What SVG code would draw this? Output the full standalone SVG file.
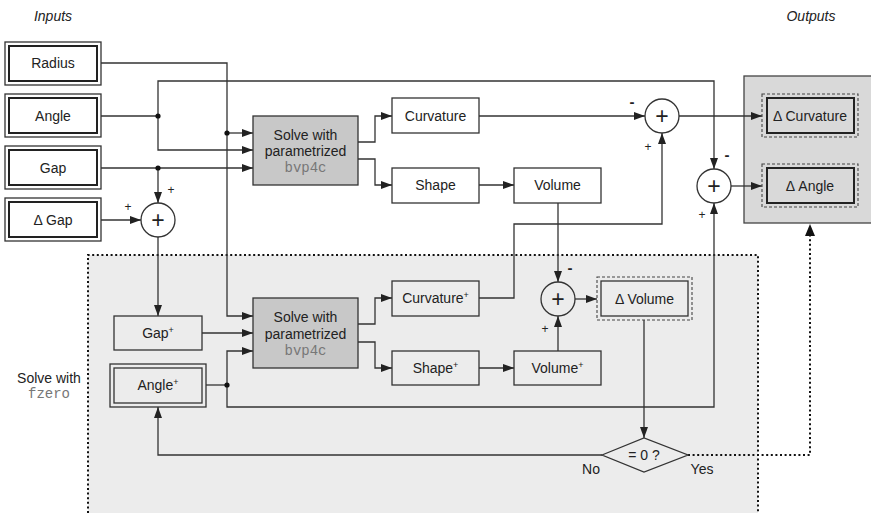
<svg xmlns="http://www.w3.org/2000/svg" width="871" height="513" viewBox="0 0 871 513">
<defs>
<marker id="ah" markerWidth="11" markerHeight="8" refX="11" refY="4" orient="auto" markerUnits="userSpaceOnUse"><path d="M0,0 L11,4 L0,8 z" fill="#222"/></marker>
</defs>
<style>
text{font-family:"Liberation Sans",Arial,sans-serif;font-size:14px;fill:#222;text-anchor:middle}
.mono{font-family:"Liberation Mono","Courier New",monospace;fill:#777}
.it{font-style:italic}
.box{fill:#fff;stroke:#333;stroke-width:1.3}
.boxl{fill:none;stroke:#333;stroke-width:1.3}
.thick{fill:none;stroke:#222;stroke-width:2}
.solve{fill:#c8c8c8;stroke:#333;stroke-width:1.3}
.dash{fill:none;stroke:#444;stroke-width:1.1;stroke-dasharray:3 2}
.sum{fill:#fff;stroke:#333;stroke-width:1.3}
.sumg{fill:#ececec;stroke:#333;stroke-width:1.3}
.plus{font-size:23px}
.sm{font-size:12px;fill:#222}
.mn{font-size:15px;font-weight:bold}
.c{fill:none;stroke:#333;stroke-width:1.3}
.c path.a{marker-end:url(#ah)}
.dot{fill:#111;stroke:none}
.sup{font-size:9px}
</style>

<!-- regions -->
<rect x="88" y="255" width="670" height="270" fill="#ececec"/>
<path d="M88,513 V255 H758 V513" fill="none" stroke="#111" stroke-width="2" stroke-dasharray="2 2.6"/>
<rect x="744" y="76" width="135" height="147" fill="#d9d9d9" stroke="#444" stroke-width="1.3"/>

<text class="it" x="53" y="21">Inputs</text>
<text class="it" x="811" y="21">Outputs</text>
<text x="49" y="383">Solve with</text>
<text class="mono" x="49" y="398">fzero</text>

<!-- connectors -->
<g id="connectors" class="c">
<path class="a" d="M101,63 H227 V316 H253"/>
<path class="a" d="M227,133 H253"/>
<path d="M101,116 H158"/>
<path class="a" d="M158,116 V150 H253"/>
<path class="a" d="M158,116 V81 H714 V169"/>
<path class="a" d="M101,168 H253"/>
<path class="a" d="M158,168 V203"/>
<path class="a" d="M101,220 H141"/>
<path class="a" d="M158,237 V316"/>
<path class="a" d="M358,142 H375 V116 H392"/>
<path class="a" d="M358,159 H375 V185 H392"/>
<path class="a" d="M479,185 H514"/>
<path class="a" d="M479,116 H645"/>
<path class="a" d="M679,116 H762"/>
<path class="a" d="M558,203 V282"/>
<path class="a" d="M479,298 H514 V224 H662 V133"/>
<path class="a" d="M358,324 H375 V298 H392"/>
<path class="a" d="M358,342 H375 V368 H392"/>
<path class="a" d="M479,368 H514"/>
<path class="a" d="M558,351 V316"/>
<path class="a" d="M575,299 H597"/>
<path class="a" d="M644,320 V438"/>
<path class="a" d="M602,455 H158 V407"/>
<path d="M206,385 H227"/>
<path class="a" d="M227,385 V351 H253"/>
<path class="a" d="M227,385 V407 H714 V203"/>
<path class="a" d="M731,186 H762"/>
<path class="a" d="M202,333 H253"/>
<path d="M688,455 H810 V236" stroke="#111" stroke-width="2" stroke-dasharray="2 2.6"/>
<polygon points="810,224 805,236 815,236" fill="#111" stroke="none"/>
<circle class="dot" cx="227" cy="133" r="2.6"/>
<circle class="dot" cx="158" cy="116" r="2.6"/>
<circle class="dot" cx="158" cy="168" r="2.6"/>
<circle class="dot" cx="227" cy="385" r="2.6"/>
</g>

<!-- inputs -->
<g id="radius"><rect class="box" x="5" y="42" width="96" height="43"/><rect class="thick" x="9" y="46" width="88" height="35"/><text x="53" y="68">Radius</text></g>
<g id="angle"><rect class="box" x="5" y="94" width="96" height="43"/><rect class="thick" x="9" y="98" width="88" height="35"/><text x="53" y="121">Angle</text></g>
<g id="gap"><rect class="box" x="5" y="146" width="96" height="43"/><rect class="thick" x="9" y="150" width="88" height="35"/><text x="53" y="173">Gap</text></g>
<g id="dgap"><rect class="box" x="5" y="198" width="96" height="43"/><rect class="thick" x="9" y="202" width="88" height="35"/><text x="53" y="225">Δ Gap</text></g>

<g id="sumgap"><circle class="sum" cx="158" cy="220" r="17"/><text class="plus" x="158" y="228">+</text><text class="sm" x="171" y="194">+</text><text class="sm" x="128" y="211">+</text></g>

<!-- upper solve -->
<g id="solve1"><rect class="solve" x="253" y="116" width="105" height="69"/><text x="305.5" y="140">Solve with</text><text x="305.5" y="156">parametrized</text><text class="mono" x="305.5" y="172">bvp4c</text></g>
<g id="curvature"><rect class="box" x="392" y="98" width="87" height="35"/><text x="435.5" y="121">Curvature</text></g>
<g id="shape"><rect class="box" x="392" y="168" width="87" height="35"/><text x="435.5" y="190">Shape</text></g>
<g id="volume"><rect class="box" x="514" y="168" width="87" height="35"/><text x="557.5" y="190">Volume</text></g>

<g id="sum1"><circle class="sum" cx="662" cy="116" r="17"/><text class="plus" x="662" y="124">+</text><text class="mn" x="632" y="107">-</text><text class="sm" x="648" y="151">+</text></g>
<g id="sum2"><circle class="sum" cx="714" cy="186" r="17"/><text class="plus" x="714" y="194">+</text><text class="mn" x="727" y="160">-</text><text class="sm" x="702" y="219">+</text></g>

<!-- outputs -->
<g id="dcurv"><rect class="dash" x="762" y="94" width="96" height="43"/><rect class="thick" x="767" y="98" width="87" height="35"/><text x="810" y="121">Δ Curvature</text></g>
<g id="dangle"><rect class="dash" x="762" y="164" width="96" height="43"/><rect class="thick" x="767" y="168" width="87" height="35"/><text x="810" y="191">Δ Angle</text></g>

<!-- lower -->
<g id="gapplus"><rect class="boxl" x="114" y="316" width="88" height="34"/><text x="158" y="338">Gap<tspan class="sup" dy="-5">+</tspan></text></g>
<g id="angleplus"><rect class="boxl" x="110" y="364" width="96" height="43"/><rect class="boxl" x="114" y="368" width="88" height="35"/><text x="158" y="390">Angle<tspan class="sup" dy="-5">+</tspan></text></g>
<g id="solve2"><rect class="solve" x="253" y="298" width="105" height="70"/><text x="305.5" y="322">Solve with</text><text x="305.5" y="339">parametrized</text><text class="mono" x="305.5" y="355">bvp4c</text></g>
<g id="curvplus"><rect class="boxl" x="392" y="281" width="87" height="35"/><text x="435.5" y="303">Curvature<tspan class="sup" dy="-5">+</tspan></text></g>
<g id="shapeplus"><rect class="boxl" x="392" y="351" width="87" height="34"/><text x="435.5" y="373">Shape<tspan class="sup" dy="-5">+</tspan></text></g>
<g id="volplus"><rect class="boxl" x="514" y="351" width="87" height="34"/><text x="557.5" y="373">Volume<tspan class="sup" dy="-5">+</tspan></text></g>
<g id="sum3"><circle class="sumg" cx="558" cy="299" r="17"/><text class="plus" x="558" y="307">+</text><text class="mn" x="570" y="273">-</text><text class="sm" x="545" y="333">+</text></g>
<g id="dvol"><rect class="dash" x="597" y="277" width="95" height="43"/><rect class="boxl" x="601" y="281" width="87" height="35"/><text x="644.5" y="304">Δ Volume</text></g>
<g id="decision"><polygon points="602,455 644,438 688,455 644,472" fill="#ececec" stroke="#333" stroke-width="1.3"/><text x="644" y="460">= 0 ?</text><text x="591" y="474">No</text><text x="702" y="474">Yes</text></g>
</svg>
